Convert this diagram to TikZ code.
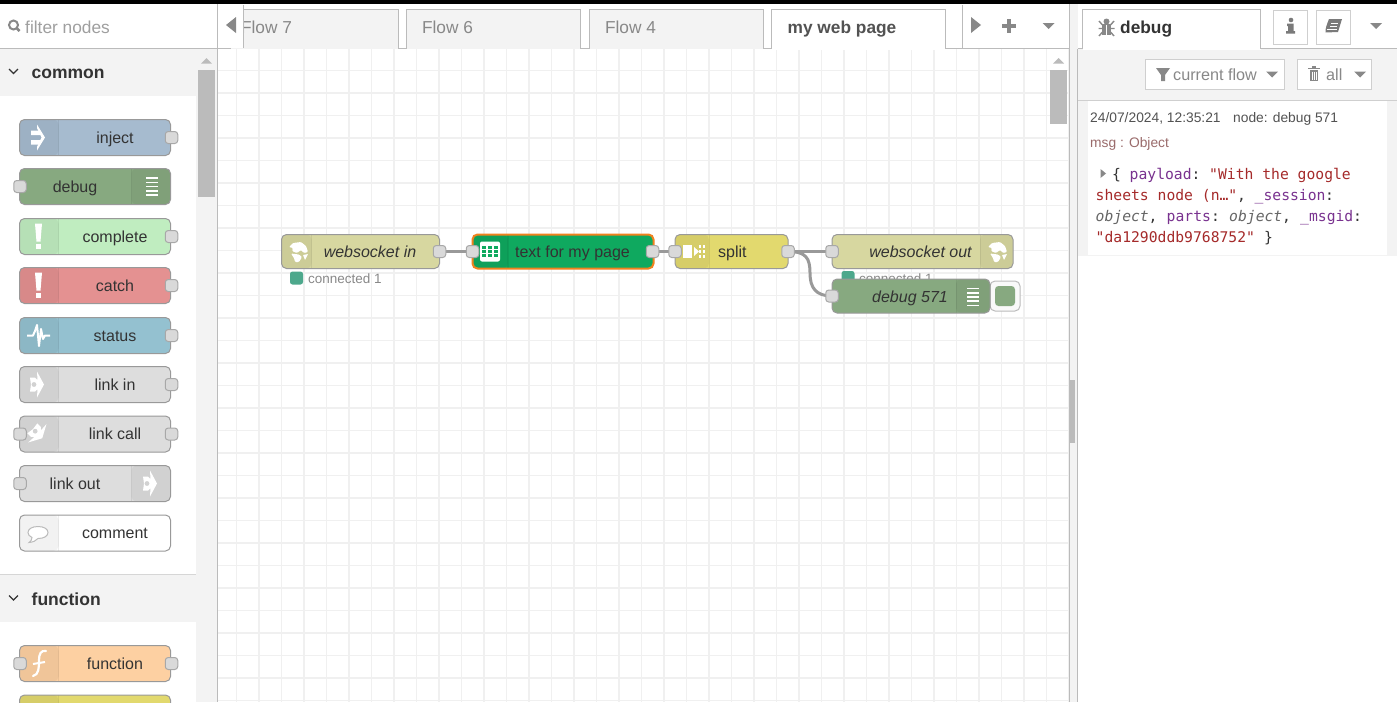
\documentclass[tikz,border=0pt]{standalone}
\usepackage{fontspec}
\setmainfont{Liberation Sans}
\newfontfamily\monof{DejaVu Sans Mono}
\newcommand{\fsz}[1]{\fontsize{#1pt}{#1pt}\selectfont}
\definecolor{txt}{HTML}{333333}
\definecolor{grayt}{HTML}{888888}
\definecolor{edge}{HTML}{BBBBBB}
\definecolor{panel}{HTML}{F3F3F3}
\definecolor{gridc}{HTML}{F0F0F0}
\definecolor{wirec}{HTML}{999999}
\definecolor{cinject}{HTML}{A6BBCF}
\definecolor{cdebug}{HTML}{87A980}
\definecolor{ccomplete}{HTML}{C0EDC0}
\definecolor{ccatch}{HTML}{E49191}
\definecolor{cstatus}{HTML}{94C1D0}
\definecolor{clink}{HTML}{DDDDDD}
\definecolor{cfunc}{HTML}{FDD0A2}
\definecolor{cyell}{HTML}{E2D96E}
\definecolor{cws}{HTML}{D7D7A0}
\definecolor{cgreen}{HTML}{0FA95F}
\definecolor{corange}{HTML}{F0821E}
\definecolor{cstat}{HTML}{4DA88C}
\definecolor{cpurple}{HTML}{79328F}
\definecolor{cred}{HTML}{A52A2A}
\definecolor{cmsg}{HTML}{9A6B6B}
\tikzset{
  x=1pt,y=-1pt,
  nodebox/.style={draw=#1,line width=1pt,rounded corners=5pt,inner sep=0pt,outer sep=0pt},
  nodebox/.default=wirec,
  palbox/.style={nodebox,minimum width=151pt,minimum height=36pt},
  flowbox/.style={nodebox,minimum height=34pt},
  iconl/.style={path picture={\fill[black,fill opacity=.05] (path picture bounding box.north west) rectangle ([xshift=#1pt]path picture bounding box.south west);
     \draw[black,opacity=.07] ([xshift=#1pt]path picture bounding box.north west) -- ([xshift=#1pt]path picture bounding box.south west);}},
  iconr/.style={path picture={\fill[black,fill opacity=.05] (path picture bounding box.north east) rectangle ([xshift=-#1pt]path picture bounding box.south east);
     \draw[black,opacity=.07] ([xshift=-#1pt]path picture bounding box.north east) -- ([xshift=-#1pt]path picture bounding box.south east);}},
  port/.style={draw=wirec!85!white,fill=gray!30,line width=1pt,rounded corners=3pt,minimum width=12.5pt,minimum height=12pt,inner sep=0pt,outer sep=0pt},
  lab/.style={text=txt,font=\fsz{16},inner sep=0pt,anchor=base},
  labi/.style={lab,font=\fsz{16}\itshape},
  tabbox/.style={draw=edge,line width=1pt,fill=panel},
  tabt/.style={text=grayt,font=\fsz{17.3},inner sep=0pt,anchor=base},
  headt/.style={text=txt,font=\fsz{17.5}\bfseries,inner sep=0pt,anchor=base west},
  wire/.style={draw=wirec,line width=3pt},
  stat/.style={fill=cstat,rounded corners=2.5pt,minimum size=13pt,inner sep=0pt},
  statt/.style={text=grayt,font=\fsz{13.5},inner sep=0pt,anchor=base west},
  mono/.style={font=\monof\fsz{14.7},inner sep=0pt,anchor=base west},
  monoi/.style={mono,font=\monof\fsz{14.7}\itshape,text=txt!75!white},
  msgt/.style={font=\fsz{13.8},inner sep=0pt,anchor=base west},
  btn/.style={draw=edge!70,line width=1pt,fill=white},
  ico/.style={fill=white,draw=none},
  caret/.style={fill=grayt,draw=none}
}
% palette node: name, y, colour, label x, label
\newcommand{\palA}[5]{\node[palbox,fill=#3,iconl=39] (#1) at (95,#2) {};
  \node[lab] (#1-t) at (#4,#2+5.5) {#5};}
\newcommand{\palB}[5]{\node[palbox,fill=#3,iconr=39] (#1) at (95,#2) {};
  \node[lab] (#1-t) at (#4,#2+5.5) {#5};}
\newcommand{\inport}[1]{\node[port] (#1-i) at ([xshift=.5pt]#1.west) {};}
\newcommand{\outport}[1]{\node[port] (#1-o) at ([xshift=1pt]#1.east) {};}
\newcommand{\caretd}[2]{\fill[caret] (#1-6,#2-3) -- (#1+6,#2-3) -- (#1,#2+3) -- cycle;}
\newcommand{\bangicon}[2]{\fill[ico] (#1-3.5,#2-13) -- (#1+3.5,#2-13) -- (#1+2,#2+5) -- (#1-2,#2+5) -- cycle;
  \fill[ico] (#1-2.5,#2+7.5) rectangle (#1+2.5,#2+12);}
\newcommand{\linesicon}[2]{\foreach \k in {-2,-1,0,1,2}{\fill[white] (#1-6,#2+\k*4.2-.8) rectangle (#1+6,#2+\k*4.2+.8);}}
\newcommand{\linkicon}[3]{\fill[ico] (#1-1,#2-13) -- (#1+6,#2) -- (#1-1,#2+13) -- (#1-.5,#2+4.5) -- (#1-3,#2+7) -- (#1-8,#2+7)
    -- (#1-7,#2) -- (#1-8,#2-7) -- (#1-3,#2-7) -- (#1-.5,#2-4.5) -- cycle;
  \fill[#3] (#1-4,#2) circle (2.4);}
\newcommand{\globeicon}[2]{\fill[white,rounded corners=1pt]
    (#1-9,#2-5) -- (#1-5,#2-9) -- (#1+3,#2-10) -- (#1+8,#2-6) -- (#1+10,#2) -- (#1+6,#2+1) -- (#1+3,#2-2) -- (#1-1,#2+1) -- (#1-6,#2-1) -- (#1-5,#2-4) -- cycle;
  \fill[white,rounded corners=1pt] (#1-7,#2+1.5) -- (#1+1,#2+2.5) -- (#1+4,#2+5) -- (#1+1,#2+10) -- (#1-3,#2+10) -- (#1-4,#2+6) -- cycle;
  \fill[white,rounded corners=.5pt] (#1+5,#2+3) -- (#1+10,#2+2) -- (#1+7,#2+8) -- cycle;}
\begin{document}
\begin{tikzpicture}
\useasboundingbox (0,0) rectangle (1397,702);
\fill[white] (0,0) rectangle (1397,702);
% canvas grid
\begin{scope}
\clip (218,49) rectangle (1069,702);
\foreach \k in {0,...,37}{\draw[gridc,line width={mod(\k,2)==1?2pt:1pt}] (236.8+22.5*\k,49) -- (236.8+22.5*\k,702);}
\foreach \k in {0,...,29}{\draw[gridc,line width={mod(\k,2)==1?2pt:1pt}] (218,70.7+22.5*\k) -- (1069,70.7+22.5*\k);}
\end{scope}
% top bar
\fill[black] (0,0) rectangle (1397,4);
% palette frame
\fill[panel] (196,49) rectangle (217,702);
\fill[panel] (0,49) rectangle (196,96);
\fill[panel] (0,575) rectangle (196,622);
\draw[edge!60,line width=1pt] (0,574.5) -- (196,574.5);
\fill[edge] (198,70) rectangle (215,197);
\fill[edge] (201,63.5) -- (212,63.5) -- (206.5,58) -- cycle;
\draw[edge,line width=1pt] (0,48.5) -- (1069,48.5);
\draw[edge,line width=1pt] (217.5,4) -- (217.5,702);
% search
\draw[grayt,line width=2pt] (13.5,25) circle (4.5);
\draw[grayt,line width=2.5pt] (17,28.5) -- (19.5,31);
\node[text=edge!85!black,font=\fsz{17.3},inner sep=0pt,anchor=base west] (filter) at (25,33) {filter nodes};
% headers
\draw[txt,line width=1.3pt] (9,69) -- (13.5,73.5) -- (18,69);
\node[headt] (common) at (31.5,78) {common};
\draw[txt,line width=1.3pt] (9,595.5) -- (13.5,600) -- (18,595.5);
\node[headt] (function) at (31.5,605) {function};
% palette nodes
\palA{inject}{137.5}{cinject}{115}{inject}\outport{inject}
\palB{debug}{186.5}{cdebug}{75}{debug}\inport{debug}
\palA{complete}{236.5}{ccomplete}{115}{complete}\outport{complete}
\palA{catch}{285.5}{ccatch}{115}{catch}\outport{catch}
\palA{status}{335.5}{cstatus}{115}{status}\outport{status}
\palA{linkin}{384.5}{clink}{115}{link in}\outport{linkin}
\palA{linkcall}{434}{clink}{115}{link call}\inport{linkcall}\outport{linkcall}
\palB{linkout}{483.5}{clink}{75}{link out}\inport{linkout}
\palA{comment}{533}{white}{115}{comment}
\palA{func}{663.5}{cfunc}{115}{function}\inport{func}\outport{func}
\begin{scope}
\clip (0,690) rectangle (196,702);
\palA{yell}{713}{cyell}{115}{}
\end{scope}
% palette icons
\fill[white] (31,130.5) rectangle (40,135) (31,140) rectangle (40,144.5);
\fill[white] (37,124.5) -- (45,137.5) -- (37,150.5) -- (37,147) -- (41.5,137.5) -- (37,128) -- cycle;
\linesicon{152}{186.5}
\bangicon{38.5}{236.5}
\bangicon{38.5}{285.5}
\draw[white,line width=2pt,line join=round] (27,335.5) -- (33,335.5) -- (35,331) -- (37,325) -- (39,346) -- (41,329) -- (43,339) -- (45,335.5) -- (50,335.5);
\linkicon{38}{384.5}{clink!95!black}
\linkicon{151}{483.5}{clink!95!black}
\begin{scope}[rotate around={-45:(38,434)}]\linkicon{38}{434}{clink!95!black}\end{scope}
\draw[edge,line width=1pt,fill=white] (38,526.5) .. controls (44,526.5) and (48,529) .. (48,532.5) .. controls (48,536) and (44,538.5) .. (38,538.5)
  .. controls (36,541) and (33,542) .. (29,542.5) .. controls (31,541) and (32,539.5) .. (32,537.5) .. controls (29.5,536.5) and (28,534.5) .. (28,532.5) .. controls (28,529) and (32,526.5) .. (38,526.5) -- cycle;
\draw[white,line width=2.2pt,line cap=round] (46,651) .. controls (41,650) and (39,654) .. (39,660) .. controls (39,667) and (39,675) .. (33,676);
\draw[white,line width=2pt] (33,664) -- (45,662);
% tabs
\draw[tabbox] (230,48.5) -- (230,9.5) -- (398.5,9.5) -- (398.5,48.5);
\node[tabt] (tab7) at (266.5,33.5) {Flow 7};
\fill[white] (218,5) rectangle (243,48);
\draw[edge,line width=1pt] (243.5,5) -- (243.5,48);
\fill[grayt] (236,17) -- (236,33) -- (226,25) -- cycle;
\draw[tabbox] (406.5,48.5) -- (406.5,9.5) -- (580.5,9.5) -- (580.5,48.5);
\node[tabt] (tab6) at (447.5,33.5) {Flow 6};
\draw[tabbox] (589.5,48.5) -- (589.5,9.5) -- (763.5,9.5) -- (763.5,48.5);
\node[tabt] (tab4) at (630.5,33.5) {Flow 4};
\fill[white] (771.5,9.5) rectangle (945.5,49);
\draw[edge,line width=1pt] (771.5,48.5) -- (771.5,9.5) -- (945.5,9.5) -- (945.5,48.5);
\node[tabt,text=txt!85!white,font=\fsz{17.3}\bfseries] (tabw) at (842,33.5) {my web page};
\fill[white] (772,47) rectangle (945,49.5);
\draw[edge,line width=1pt] (962.5,5) -- (962.5,48);
\fill[grayt] (971,17) -- (971,33) -- (981,25) -- cycle;
\fill[grayt] (1007,19) rectangle (1011,33);
\fill[grayt] (1002,24) rectangle (1016,28);
\caretd{1048.5}{26}
% canvas scroll
\fill[edge] (1050,70) rectangle (1067,124);
\fill[edge] (1053,63.5) -- (1064,63.5) -- (1058.5,58) -- cycle;
\fill[panel] (1069,4) rectangle (1078,702);
\draw[edge,line width=1pt] (1069.5,4) -- (1069.5,702) (1077.5,49) -- (1077.5,702);
\fill[edge] (1070,380) rectangle (1074.5,443);
% right panel
\fill[panel] (1078,48) rectangle (1397,100);
\draw[edge!70,line width=1pt] (1078,100.5) -- (1397,100.5);
\fill[white] (1082.5,9.5) rectangle (1260.5,49.5);
\draw[edge,line width=1pt] (1078,48.5) -- (1082.5,48.5) -- (1082.5,9.5) -- (1260.5,9.5) -- (1260.5,48.5) -- (1397,48.5);
\node[headt,font=\fsz{17.3}\bfseries] (dbgtab) at (1120,33.5) {debug};
% bug icon
\fill[grayt] (1102,23.5) rectangle (1111,35);
\fill[grayt] (1106.5,21.5) circle (3);
\draw[grayt,line width=1.4pt] (1099,21) -- (1102.5,25) (1114,21) -- (1110.5,25) (1098.5,28.5) -- (1114.5,28.5) (1099,36) -- (1102.5,32) (1114,36) -- (1110.5,32);
\draw[white,line width=1pt] (1106.5,25) -- (1106.5,35.5);
\draw[btn] (1273.5,10.5) rectangle (1307.5,44.5);
\draw[btn] (1316.5,10.5) rectangle (1350.5,44.5);
\fill[grayt!90!black] (1291,20) circle (2.3);
\fill[grayt!90!black] (1287,23.5) -- (1293.5,23.5) -- (1293.5,31) -- (1295,31) -- (1295,33.5) -- (1286,33.5) -- (1286,31) -- (1288,31) -- (1288,26) -- (1287,26) -- cycle;
\fill[grayt!90!black] (1329,19) -- (1342,19) -- (1338,32) -- (1325.5,32.5) .. controls (1325,29) and (1327,24) .. (1329,19) -- cycle;
\draw[white,line width=.8pt] (1331,23) -- (1338,23) (1330,26) -- (1337,26) (1327,29.5) -- (1336.5,29.5);
\caretd{1376}{26}
% filters
\draw[btn] (1145.5,59.5) rectangle (1284.5,89.5);
\draw[btn] (1297.5,59.5) rectangle (1371.5,89.5);
\fill[grayt] (1156,68) -- (1170,68) -- (1165,75) -- (1165,81) -- (1161,81) -- (1161,75) -- cycle;
\node[tabt,font=\fsz{16.2},anchor=base west] (curflow) at (1173,80) {current flow};
\caretd{1272}{74.5}
\fill[grayt] (1310,70) rectangle (1318,81);
\fill[grayt] (1308,67.5) rectangle (1320,69);
\fill[grayt] (1312,66) rectangle (1316,68);
\draw[white,line width=.7pt] (1312,71.5) -- (1312,79.5) (1314,71.5) -- (1314,79.5) (1316,71.5) -- (1316,79.5);
\node[tabt,font=\fsz{16.2},anchor=base west] (allt) at (1326,80) {all};
\caretd{1360}{74.5}
% message
\fill[panel] (1078,101) rectangle (1088,255);
\fill[panel] (1387,101) rectangle (1397,255);
\draw[panel,line width=1pt] (1078,255.5) -- (1397,255.5);
\node[msgt,text=txt!85!white] (stamp) at (1090,122) {24/07/2024, 12:35:21};
\node[msgt,text=txt!85!white] (nodeid) at (1233,122) {node: debug 571};
\node[msgt,text=cmsg] (msgobj) at (1090,147) {msg : Object};
\fill[grayt] (1100.5,169) -- (1100.5,178) -- (1106,173.5) -- cycle;
\node[mono,text=txt] (m1a) at (1112,179) {\{};
\node[mono,text=cpurple] (m1b) at (1129.5,179) {payload};
\node[mono,text=txt] (m1c) at (1191.5,179) {:};
\node[mono,text=cred] (m1d) at (1209,179) {"With the google};
\node[mono,text=cred] (m2a) at (1095.5,200) {sheets node (n…"};
\node[mono,text=txt] (m2b) at (1237,200) {,};
\node[mono,text=cpurple] (m2c) at (1254.5,200) {\_session};
\node[mono,text=txt] (m2d) at (1325,200) {:};
\node[monoi] (m3a) at (1095.5,221) {object};
\node[mono,text=txt] (m3b) at (1148.5,221) {,};
\node[mono,text=cpurple] (m3c) at (1166.5,221) {parts};
\node[mono,text=txt] (m3d) at (1211,221) {:};
\node[monoi] (m3e) at (1229,221) {object};
\node[mono,text=txt] (m3f) at (1282,221) {,};
\node[mono,text=cpurple] (m3g) at (1300,221) {\_msgid};
\node[mono,text=txt] (m3h) at (1353,221) {:};
\node[mono,text=cred] (m4a) at (1095.5,242) {"da1290ddb9768752"};
\node[mono,text=txt] (m4b) at (1264,242) {\}};
% flow nodes
\node[flowbox,fill=cws,iconl=30,minimum width=158pt] (wsin) at (360.5,251.5) {};
\node[labi] (wsin-t) at (370,257) {websocket in};
\node[flowbox,fill=cgreen,iconl=35,minimum width=181pt,draw=corange,line width=2pt] (sheet) at (563,251.5) {};
\node[lab] (sheet-t) at (572.5,257) {text for my page};
\node[flowbox,fill=cyell,iconl=34,minimum width=113pt] (split) at (731.5,251.5) {};
\node[lab,anchor=base west] (split-t) at (718,257) {split};
\node[stat] (st1) at (296.5,278) {};
\node[statt] (st1-t) at (308,283) {connected 1};
\node[stat] (st2) at (848,277.5) {};
\node[statt] (st2-t) at (859,283) {connected 1};
\node[flowbox,fill=cws,iconr=33,minimum width=181pt] (wsout) at (922.5,251.5) {};
\node[labi] (wsout-t) at (920.5,257) {websocket out};
\node[btn,draw=edge,fill=panel!50!white,rounded corners=5pt,minimum width=30pt,minimum height=30pt,inner sep=0pt,anchor=west] (dbgbtn) at (989.5,296) {};
\node[fill=cdebug,rounded corners=3.5pt,minimum size=20pt,inner sep=0pt] (dbgsq) at (1005,296) {};
\node[flowbox,fill=cdebug,iconr=34,minimum width=158pt] (dbg) at (911,296) {};
\node[labi] (dbg-t) at (910,302) {debug 571};
% icons on flow nodes
\globeicon{298}{252}
\globeicon{997}{252}
\fill[white,rounded corners=2pt] (480,241.5) rectangle (500,261.5);
\foreach \yy in {247.5,251.5,255.5}{\fill[cgreen] (482,\yy-1.2) rectangle (486,\yy+1.2);\fill[cgreen] (488,\yy-1.2) rectangle (492,\yy+1.2);\fill[cgreen] (494,\yy-1.2) rectangle (498,\yy+1.2);}
\fill[white] (683,245) rectangle (692,258);
\fill[white] (694,247) -- (699,251.5) -- (694,256) -- cycle;
\foreach \xx in {699,703}{\foreach \yy in {246.5,251.5,256.5}{\fill[white] (\xx,\yy-1.2) rectangle (\xx+2.4,\yy+1.2);}}
\linesicon{972.5}{297}
% wires
\draw[wire] (wsin.east) -- (sheet.west);
\draw[wire] (sheet.east) -- (split.west);
\draw[wire] (split.east) -- (wsout.west);
\draw[wire] (split.east) .. controls (806,251.5) and (810,258) .. (810,273) .. controls (810,288) and (816,296) .. (dbg.west);
% ports
\node[port] (wsin-o) at (wsin.east) {};
\node[port] (sheet-i) at (sheet.west) {};
\node[port] (sheet-o) at ([xshift=-1pt]sheet.east) {};
\node[port] (split-i) at (split.west) {};
\node[port] (split-o) at (split.east) {};
\node[port] (wsout-i) at (wsout.west) {};
\node[port] (dbg-i) at (dbg.west) {};
\end{tikzpicture}
\end{document}
